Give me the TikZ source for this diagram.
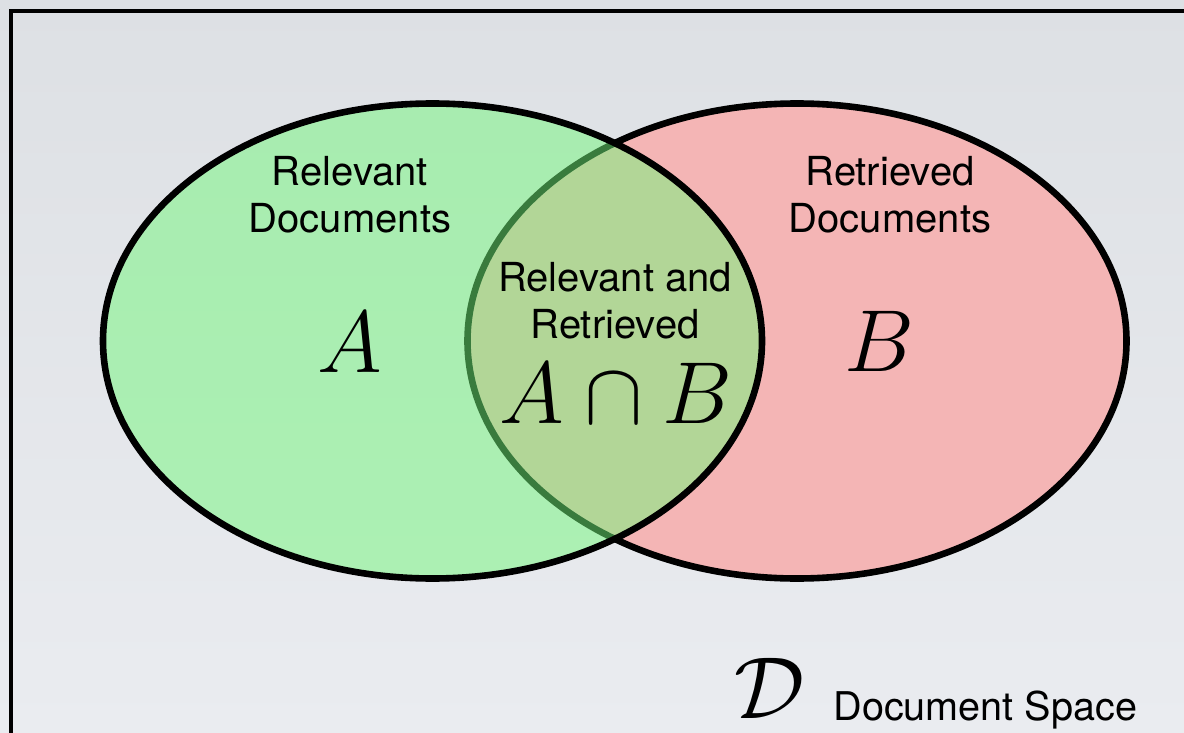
\RequirePackage{fix-cm}
\documentclass[tikz,border=0pt]{standalone}
\usepackage{amsmath, amssymb}
\usepackage{fontspec}
\setmainfont{TeX Gyre Heros}
\usepackage{tikz}
\usetikzlibrary{
    positioning
}

\definecolor{bgtop}{RGB}{221,224,228}
\definecolor{bgbot}{RGB}{234,236,240}
\definecolor{relgreen}{RGB}{114,247,123}
\definecolor{retpink}{RGB}{244,181,181}

\tikzset{
    setline/.style={line width=3.3pt, draw=black},
    label/.style={align=center, inner sep=0pt,
        font=\fontsize{20}{23.5}\selectfont},
    setname/.style={inner sep=0pt, font=\fontsize{44}{50}\selectfont}
}

\begin{document}
\begin{tikzpicture}[x=0.5pt, y=-0.5pt]

% page and background
\useasboundingbox (0,0) rectangle (1184,733);
\clip (0,0) rectangle (1184,733);
\shade[top color=bgtop, bottom color=bgbot] (0,0) rectangle (1184,733);

% document space frame
\draw[line width=2.2pt] (11,11) rectangle (1220,780);

% set centres
\coordinate (rel) at (432.5,341);
\coordinate (ret) at (797,341);

% Retrieved set
\fill[retpink] (ret) ellipse [x radius=164.75pt, y radius=118.75pt];
\draw[setline] (ret) ellipse [x radius=164.75pt, y radius=118.75pt];

% Relevant set, see-through on top
\fill[relgreen, fill opacity=0.5] (rel) ellipse [x radius=164.75pt, y radius=118.75pt];
\draw[setline] (rel) ellipse [x radius=164.75pt, y radius=118.75pt];

% labels (base = last line)
\node[label, anchor=base] (relLabel) at (350,232) {Relevant\\Documents};
\node[label, anchor=base] (retLabel) at (890,232) {Retrieved\\Documents};
\node[label, anchor=base] (bothLabel) at (615,338) {Relevant and\\Retrieved};

\node[setname, anchor=base] (setA) at (350,372) {$A$};
\node[setname, anchor=base] (setB) at (879,371) {$B$};
\node[setname, anchor=base] (setAB) at (616,423) {$A\cap B$};

% document space
\node[setname, anchor=base] (spaceSym) at (770,718) {$\mathcal{D}$};
\node[inner sep=0pt, anchor=base west, font=\fontsize{19.8}{23}\selectfont]
    (spaceLabel) at (833,720) {Document Space};

\end{tikzpicture}
\end{document}
